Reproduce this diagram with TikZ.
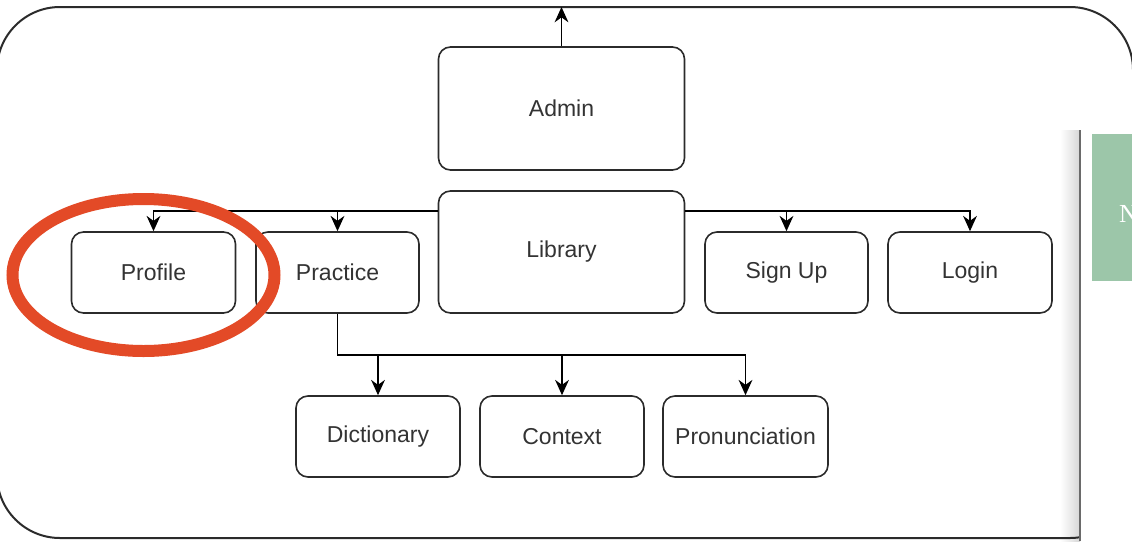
\documentclass[tikz,border=0pt]{standalone}
\usepackage{fontspec}
\setmainfont{Liberation Sans}
\newfontfamily\serifN{Liberation Serif}
\usetikzlibrary{arrows.meta}
\definecolor{edgegray}{HTML}{2B2B2B}
\definecolor{txtgray}{HTML}{333333}
\definecolor{markred}{HTML}{E34A27}
\definecolor{panelgreen}{HTML}{9CC6A9}
\definecolor{panelline}{HTML}{6A6A6A}
\tikzset{
  box/.style={draw=edgegray, line width=1.6pt, rounded corners=12pt, fill=white,
    inner sep=0pt, text=txtgray, font=\fontsize{23}{27}\selectfont},
  conn/.style={draw=black, line width=1.6pt, -{Stealth[scale length=1.5,scale width=1.8]}},
  frame/.style={draw=edgegray, line width=2pt, rounded corners=63pt}
}
\begin{document}
\begin{tikzpicture}[x=1pt,y=-1pt]
\useasboundingbox (0,0) rectangle (1132,541);
\clip (0,0) rectangle (1132,541);
\fill[white] (0,0) rectangle (1132,541);
% right panel shadow
\shade[left color=white, right color=black!16] (1060,130) rectangle (1080,541);
% outer frame
\draw[frame] (-3,7) rectangle (1133,538);
% right panel
\fill[white] (1081,130) rectangle (1132,541);
\draw[panelline, line width=1.5pt] (1080,130) -- (1080,541);
\fill[panelgreen] (1092,134) rectangle (1132,281);
\node[anchor=base west, inner sep=0pt, text=white, font=\serifN\fontsize{26}{30}\selectfont] (ntext) at (1119,222) {N};

% nodes
\node[box, minimum width=246pt, minimum height=123pt] (admin) at (561.5,108.5) {Admin};
\node[box, minimum width=246pt, minimum height=122pt] (lib) at (561.5,252) {\raisebox{2pt}{Library}};
\node[box, minimum width=164pt, minimum height=81pt] (profile) at (153.5,272.5) {Profile};
\node[box, minimum width=163pt, minimum height=81pt] (practice) at (337.5,272.5) {Practice};
\node[box, minimum width=163pt, minimum height=81pt] (signup) at (786.5,272.5) {Sign Up};
\node[box, minimum width=164pt, minimum height=81pt] (login) at (970,272.5) {Login};
\node[box, minimum width=164pt, minimum height=81pt] (dict) at (378,436.5) {Dictionary};
\node[box, minimum width=164pt, minimum height=81pt] (context) at (562,436.5) {Context};
\node[box, minimum width=165pt, minimum height=81pt] (pron) at (745.5,436.5) {Pronunciation};

\coordinate (ftop) at (561.5,7);

% connectors
\draw[conn] (admin.north) -- (ftop);
\draw[conn] ([yshift=41pt]lib.west) -| (profile.north);
\draw[conn] ([yshift=41pt]lib.west) -| (practice.north);
\draw[conn] ([yshift=41pt]lib.east) -| (signup.north);
\draw[conn] ([yshift=41pt]lib.east) -| (login.north);
\draw[conn] (practice.south) -- ++(0,41) -| (dict.north);
\draw[conn] (practice.south) -- ++(0,41) -| (context.north);
\draw[conn] (practice.south) -- ++(0,41) -| (pron.north);

% red highlight ellipse
\draw[markred, line width=12pt] (143.5,275) ellipse [x radius=131pt, y radius=76pt];
\end{tikzpicture}
\end{document}
